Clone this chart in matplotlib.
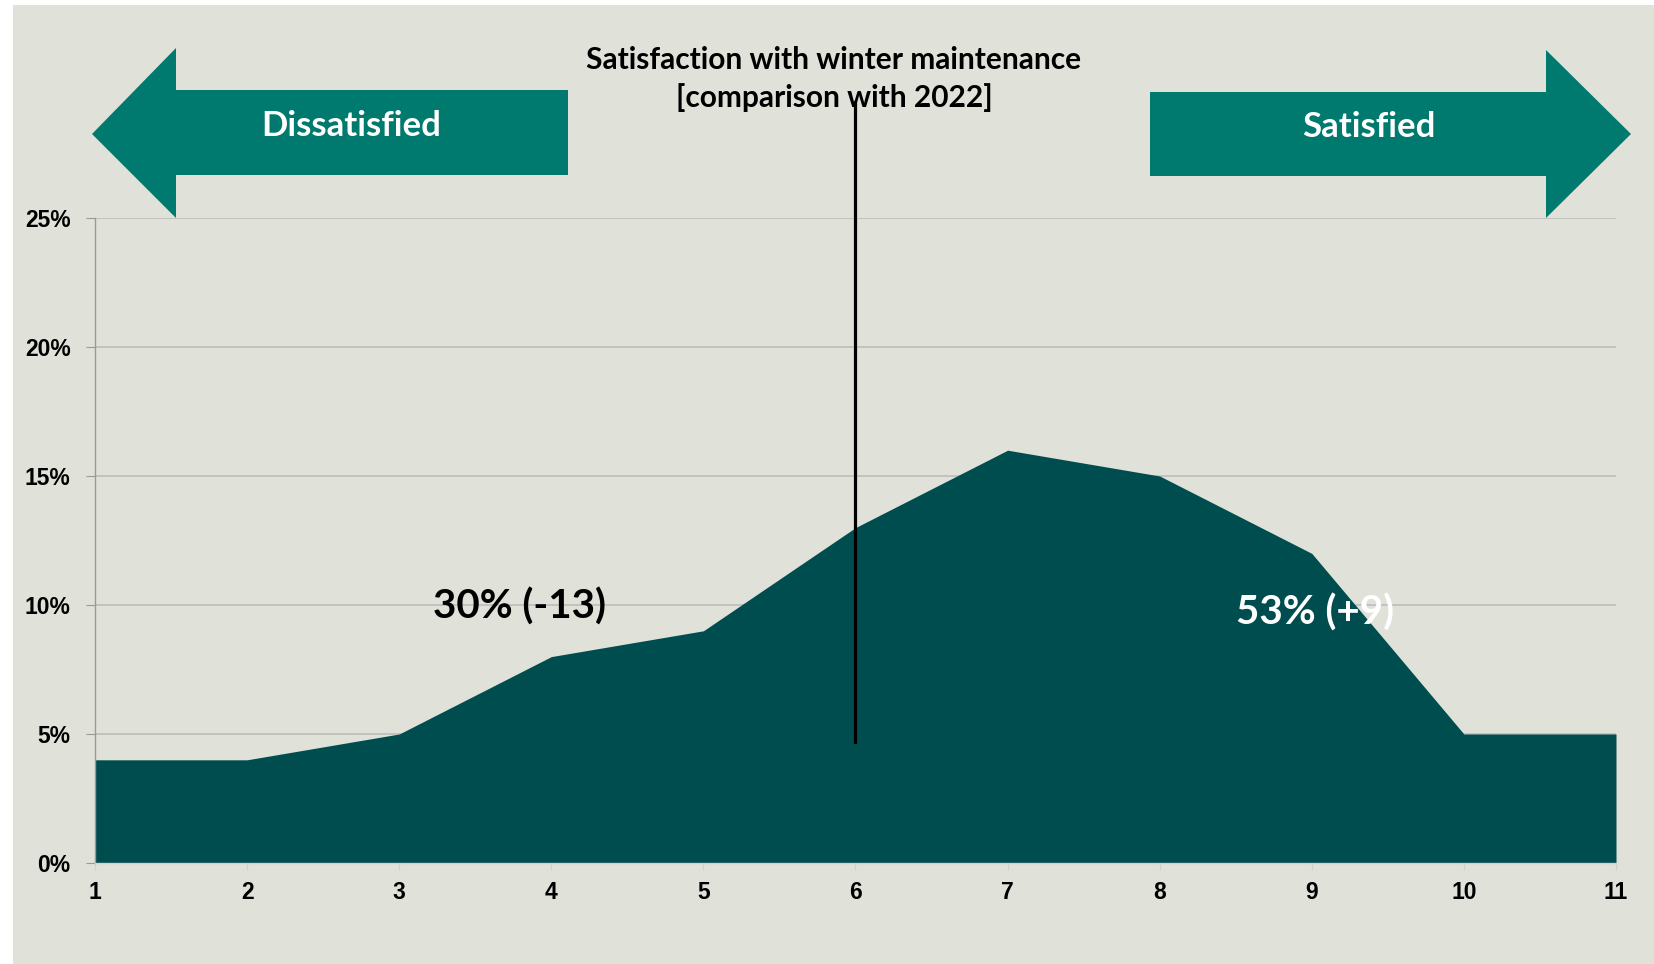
import matplotlib
matplotlib.use("Agg")
import matplotlib.pyplot as plt
from matplotlib.patches import Polygon, Rectangle

# Data
scores = [1, 2, 3, 4, 5, 6, 7, 8, 9, 10, 11]
shares = [4, 4, 5, 8, 9, 13, 16, 15, 12, 5, 5]
y_ticks = [0, 5, 10, 15, 20, 25]
title_text = "Satisfaction with winter maintenance\n[comparison with 2022]"
left_label = "Dissatisfied"
right_label = "Satisfied"
low_summary = "30% (-13)"
high_summary = "53% (+9)"

BG = "#E0E1D9"
AREA = "#004D4F"
ARROW = "#007A6E"
W, H = 1654, 964

fig = plt.figure(figsize=(W / 100, H / 100), dpi=100, facecolor="white")


def fx(px):
    return px / W


def fy(py):
    return 1 - py / H


# grey panel behind everything
fig.patches.append(Rectangle((fx(13), 0), 1 - fx(13), fy(5), transform=fig.transFigure,
                             facecolor=BG, edgecolor="none", zorder=-2))

ax = fig.add_axes([fx(95), fy(863), fx(1616) - fx(95), fy(218) - fy(863)])
ax.set_zorder(5)
ax.set_facecolor("none")
ax.fill_between(scores, shares, 0, color=AREA, lw=0, zorder=2)
ax.set_xlim(scores[0], scores[-1])
ax.set_ylim(y_ticks[0], y_ticks[-1])
ax.set_xticks(scores)
ax.set_yticks(y_ticks)
ax.set_yticklabels([f"{v}%" for v in y_ticks])
ax.grid(axis="y", color="#BFBFBF", lw=1.3, zorder=1)
ax.set_axisbelow(True)
for s in ["top", "right"]:
    ax.spines[s].set_visible(False)
ax.spines["left"].set_color("#9A9A9A")
ax.spines["left"].set_linewidth(1.0)
ax.spines["bottom"].set_color("#D0D0D0")
ax.spines["bottom"].set_linewidth(1.0)
ax.tick_params(axis="y", length=6.5, color="#9A9A9A", pad=11)
ax.tick_params(axis="x", length=5, color="#D0D0D0", pad=8)
for lab in ax.get_xticklabels() + ax.get_yticklabels():
    lab.set_fontfamily("Liberation Sans")
    lab.set_fontweight("bold")
    lab.set_fontsize(16.5)

# summary labels
ax.text(3.79, 9.94, low_summary, ha="center", va="center", fontsize=29,
        fontweight="bold", family="Lato", color="black", zorder=5)
ax.text(9.02, 9.69, high_summary, ha="center", va="center", fontsize=29,
        fontweight="bold", family="Lato", color="white", zorder=5)

# divider line at score 6
ax.plot([6, 6], [4.7, 29.5], color="black", lw=2.3, clip_on=False, zorder=6)

# arrows
left_arrow = [(92, 134), (176, 48), (176, 90), (568, 90), (568, 175), (176, 175), (176, 218)]
right_arrow = [(1631, 134), (1546, 50), (1546, 92), (1150, 92), (1150, 176), (1546, 176), (1546, 218)]
for pts in (left_arrow, right_arrow):
    fig.patches.append(Polygon([(fx(x), fy(y)) for x, y in pts], closed=True,
                               transform=fig.transFigure, facecolor=ARROW,
                               edgecolor="none", zorder=-1))

fig.text(fx(351), fy(126), left_label, ha="center", va="center", fontsize=25,
         fontweight="bold", family="Lato", color="white")
fig.text(fx(1369), fy(127), right_label, ha="center", va="center", fontsize=25,
         fontweight="bold", family="Lato", color="white")

fig.text(fx(834), fy(79), title_text, ha="center", va="center", fontsize=21.5,
         fontweight="bold", family="Lato", color="black", linespacing=1.4, zorder=3)

fig.savefig("out.png", dpi=100, facecolor="white")
